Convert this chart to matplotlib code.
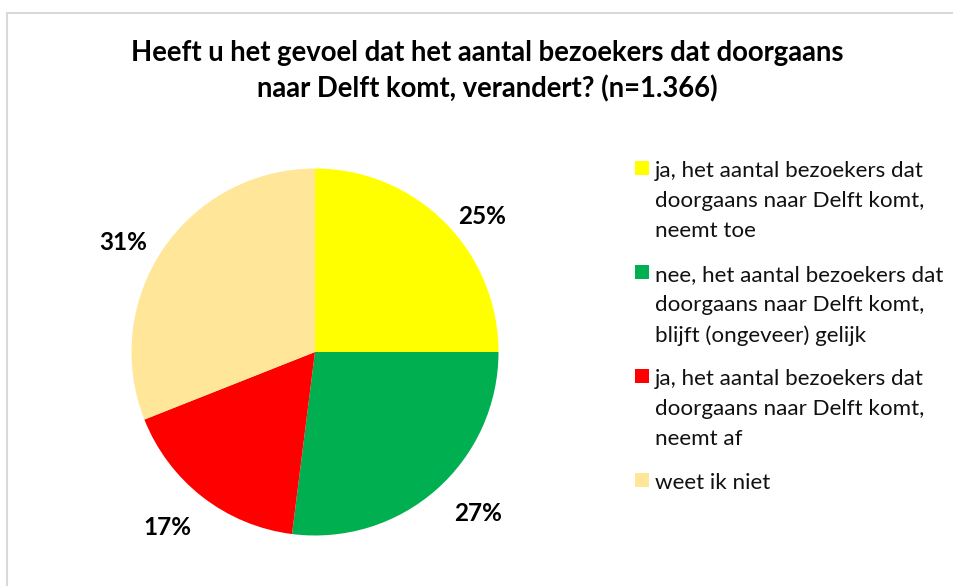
import matplotlib

matplotlib.use("Agg")
import matplotlib.pyplot as plt
from matplotlib.patches import Rectangle

# Chart data
labels = [
    "ja, het aantal bezoekers dat\ndoorgaans naar Delft komt,\nneemt toe",
    "nee, het aantal bezoekers dat\ndoorgaans naar Delft komt,\nblijft (ongeveer) gelijk",
    "ja, het aantal bezoekers dat\ndoorgaans naar Delft komt,\nneemt af",
    "weet ik niet",
]
shares = [25, 27, 17, 31]
colors = ["#FFFF00", "#00B050", "#FF0000", "#FFE699"]
title = ("Heeft u het gevoel dat het aantal bezoekers dat doorgaans\n"
         "naar Delft komt, verandert? (n=1.366)")

W, H = 954, 586
FONT = ["Lato", "DejaVu Sans"]

fig = plt.figure(figsize=(W / 100, H / 100), dpi=100)
fig.patch.set_facecolor("white")

# light grey chart-area border (runs off the right and bottom edges)
fig.add_artist(Rectangle((7 / W, -0.05), 1.1, (H - 13) / H + 0.05,
                         transform=fig.transFigure, fill=False,
                         edgecolor="#D9D9D9", linewidth=1.5))

fig.text(487 / W, 1 - 71 / H, title, ha="center", va="center",
         fontsize=19.8, fontweight="bold", family=FONT, linespacing=1.4)

# pie: centre (315, 352) px, radius ~183.5 px
cx, cy, r = 315, 352, 183.5
side = 2.5 * r
ax = fig.add_axes([(cx - side / 2) / W, (H - cy - side / 2) / H, side / W, side / H])
wedges, texts, autotexts = ax.pie(
    shares,
    colors=colors,
    startangle=90,
    counterclock=False,
    autopct="%d%%",
    pctdistance=1.22,
    wedgeprops={"linewidth": 0},
    textprops={"fontsize": 17.5, "fontweight": "bold", "family": FONT},
)

# nudge the percentage labels (pixels, x right / y down) like Excel's best fit
label_nudge = [(9, 23), (15, -6), (-10, -1), (-7, 16)]
for txt, (dx, dy) in zip(autotexts, label_nudge):
    x, y = txt.get_position()
    txt.set_position((x + dx / r, y - dy / r))

# manual legend, square aligned with first line of each entry
entry_y = [168, 272, 376, 480]
for lab, col, y in zip(labels, colors, entry_y):
    fig.add_artist(Rectangle((635 / W, 1 - (y + 7) / H), 14 / W, 14 / H,
                             transform=fig.transFigure, facecolor=col,
                             edgecolor="none"))
    fig.text(655 / W, 1 - (y - 7) / H, lab, ha="left", va="top",
             fontsize=16.1, family=FONT, linespacing=1.62, color="#111111")

fig.savefig("out.png", dpi=100, facecolor="white")
